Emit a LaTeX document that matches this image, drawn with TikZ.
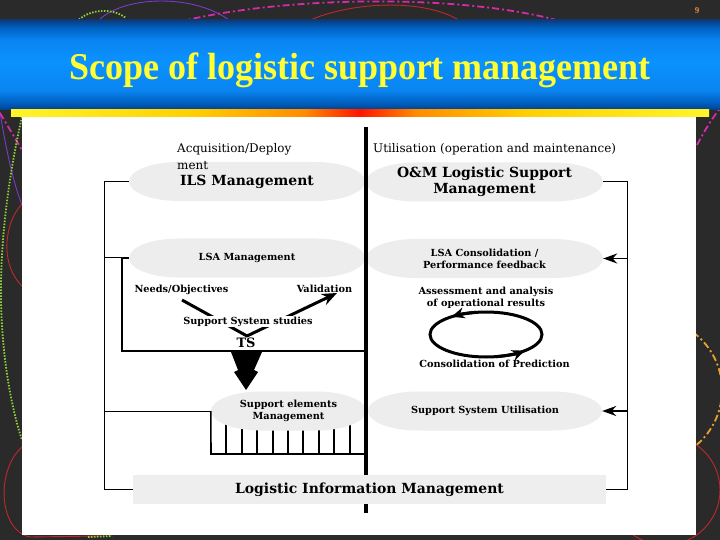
\documentclass[tikz,border=0pt]{standalone}
\usepackage{fontspec}
\setmainfont{Liberation Serif}
\newfontfamily\dvs{DejaVu Serif}
\usetikzlibrary{arrows.meta}
\definecolor{bgdark}{HTML}{2A2A2A}
\definecolor{ellgray}{HTML}{EDEDED}
\definecolor{bargray}{HTML}{EEEEEE}
\definecolor{titleyellow}{HTML}{FFFF33}
\definecolor{pnumorange}{HTML}{E8893A}
\definecolor{decopurple}{HTML}{7A3CC8}
\definecolor{decogreen}{HTML}{8FD03A}
\definecolor{decomag}{HTML}{D62AA8}
\definecolor{decored}{HTML}{C0282C}
\definecolor{decoorange}{HTML}{E8A030}
\definecolor{bnA}{HTML}{00418C}
\definecolor{bnB}{HTML}{0062C4}
\definecolor{bnC}{HTML}{0A84F0}
\definecolor{bnD}{HTML}{0A92FF}
\definecolor{bnE}{HTML}{0B3C7C}
\definecolor{byel}{HTML}{FFF52A}
\definecolor{byo}{HTML}{FFD000}
\definecolor{bor}{HTML}{FF8C00}
\definecolor{bred}{HTML}{FF1500}
\pgfdeclareverticalshading{bannershade}{100bp}{color(0bp)=(bnA); color(25bp)=(bnA); color(29.5bp)=(bnB); color(36bp)=(bnC); color(52bp)=(bnD); color(64bp)=(bnC); color(70.5bp)=(bnB); color(75bp)=(bnE); color(100bp)=(bnE)}
\pgfdeclarehorizontalshading{barshade}{100bp}{color(0bp)=(byel); color(25bp)=(byel); color(38bp)=(byo); color(46bp)=(bor); color(50bp)=(bred); color(54bp)=(bor); color(62bp)=(byo); color(75bp)=(byel); color(100bp)=(byel)}
\newcommand\blobr{50}
\newcommand\blob[6]{%
  \fill[ellgray] ({#2-#4/2+\blobr},{#3-19.5}) -- ({#2+#4/2-\blobr},{#3-19.5})
    arc[start angle=90,end angle=-90,x radius={\blobr*1bp},y radius=19.5bp]
    -- ({#2-#4/2+\blobr},{#3+19.5})
    arc[start angle=270,end angle=90,x radius={\blobr*1bp},y radius=19.5bp] -- cycle;
  \node[blobnode,#5,minimum width={#4*1bp}] (#1) at (#2,#3) {#6};}
\tikzset{
  blobnode/.style={rectangle,inner sep=0pt,minimum height=39bp,align=center,draw=none,fill=none},
  bigbold/.style={font=\dvs\bfseries\fontsize{14}{16.5}\selectfont},
  smallbold/.style={font=\dvs\bfseries\fontsize{9.8}{12}\selectfont,align=center},
  plainlbl/.style={font=\dvs\fontsize{12}{17}\selectfont},
  frame/.style={line width=1bp,black},
  thickl/.style={line width=2.6bp,black,line join=miter},
  combl/.style={line width=1.6bp,black},
  centralline/.style={line width=3.6bp,black},
  fbarrow/.style={line width=1.8bp,black,-{Stealth[length=14bp,width=10bp]}},
  vline/.style={line width=3bp,black,line join=round,-{Stealth[length=15bp,width=12bp]}},
  loopline/.style={line width=3bp,black},
  deco/.style={line width=0.9bp},
  decodot/.style={line width=1.8bp,dash pattern=on 1.5bp off 1.5bp},
  decodashdot/.style={line width=1.8bp,dash pattern=on 7bp off 3bp on 2bp off 3bp},
}
\begin{document}
\begin{tikzpicture}[x=1bp,y=-1bp]
\useasboundingbox (0,0) rectangle (720,540);
\fill[bgdark] (0,0) rectangle (720,540);
% decorative curves on the dark background
\draw[deco,decopurple] (92,28) .. controls (115,-8) and (205,-8) .. (238,28);
\draw[decodot,decogreen] (75,24) .. controls (85,10) and (110,6) .. (126,18);
\draw[decodashdot,decomag] (150,30) .. controls (260,-6) and (470,-8) .. (570,24);
\draw[deco,decored] (296,28) .. controls (330,4) and (420,-6) .. (462,22);
\draw[deco,decopurple] (0,112) .. controls (6,150) and (14,185) .. (22,205);
\draw[decodashdot,decomag] (0,113) -- (22,150);
\draw[decodot,decogreen] (22,117) .. controls (12,160) and (0,230) .. (1,300) .. controls (2,360) and (12,410) .. (22,440);
\draw[deco,decored] (22,204) .. controls (6,220) and (-2,262) .. (22,286);
\draw[deco,decored] (22,447) .. controls (-4,470) and (-2,530) .. (30,537) -- (100,536);
\draw[decodot,decogreen] (88,537) -- (112,536);
\draw[decodashdot,decomag] (697,145) .. controls (705,130) and (712,118) .. (722,106);
\draw[decodashdot,decoorange] (650,390) circle[radius=72bp];
\draw[deco,decored] (665,490) circle[radius=55bp];
% banner, bar, panel
\shade[shading=bannershade] (0,20) rectangle (720,110);
\shade[shading=barshade] (11,110) rectangle (709,117);
\fill[white] (22,117) rectangle (696,535);
\node[font=\bfseries\fontsize{38}{40}\selectfont,text=titleyellow,xscale=0.95,inner sep=0pt,anchor=base] (title) at (360,80) {Scope of logistic support management};
\node[font=\bfseries\fontsize{9}{10}\selectfont,text=pnumorange,inner sep=0pt] (pnum) at (697,11) {9};
% comb ticks (under the ellipse)
\foreach \tx in {226,242,257,273,288,303,319,334,350}
  \draw[combl] (\tx,420) -- (\tx,454);
% ellipses
\blob{ils}{247}{181.5}{236}{bigbold}{ILS Management}
\blob{om}{484.5}{182}{237}{bigbold}{O\&M Logistic Support\\Management}
\blob{lsa}{247}{258}{236}{smallbold}{LSA Management}
\blob{lsac}{484.5}{258.5}{237}{smallbold}{LSA Consolidation /\\Performance feedback}
\blob{sem}{288.5}{411}{155}{smallbold}{Support elements\\Management}
\blob{ssu}{485}{411}{234}{smallbold}{Support System Utilisation}
% central divider
\coordinate (ctop) at (366,127);
\coordinate (cbot) at (366,513);
\draw[centralline] (ctop) -- (cbot);
% logistic information bar
\node[fill=bargray,inner sep=0pt,minimum width=473bp,minimum height=29bp,font=\dvs\bfseries\fontsize{14}{16}\selectfont] (lim) at (369.5,489.5) {Logistic Information Management};
% phase labels
\node[plainlbl,anchor=north west,align=left,inner sep=0pt] (acq) at (177,143) {Acquisition/Deploy\\ment};
\node[plainlbl,anchor=base west,inner sep=0pt] (util) at (373,153) {Utilisation (operation and maintenance)};
% left frame
\coordinate (fl2) at (104,258);
\coordinate (fl3) at (104,411);
\coordinate (fl4) at (104,489.5);
\draw[frame] (ils.west) -| (fl4) -- (lim.west);
\draw[frame] (fl2) -- (lsa.west);
\draw[frame] (fl3) -- (sem.west);
% right frame
\coordinate (fr2) at (627,258.5);
\coordinate (fr3) at (627,411);
\coordinate (fr4) at (627,489.5);
\draw[frame] (om.east) -| (fr4) -- (lim.east);
\draw[fbarrow] (fr2) -- (lsac.east);
\draw[fbarrow] (fr3) -- (ssu.east);
% thick bracket around the support system studies
\coordinate (tb1) at (122,351);
\coordinate (tb2) at (366,351);
\draw[thickl] (lsa.west) -| (tb1) -- (tb2);
% comb frame
\coordinate (cb1) at (211,454);
\coordinate (cb2) at (366,454);
\draw[combl] (sem.west) -- (cb1) -- (cb2);
% V of support system studies
\node[smallbold,anchor=base,inner sep=0pt] (needs) at (181.5,292) {Needs/Objectives};
\node[smallbold,anchor=base,inner sep=0pt] (valid) at (324.5,292) {Validation};
\coordinate (v1) at (182,300);
\coordinate (v2) at (247,336);
\coordinate (v3) at (337,293);
\draw[vline] (v1) -- (v2) -- (v3);
\node[smallbold,anchor=base,fill=white,inner sep=1bp] (sss) at (248,324) {Support System studies};
\node[font=\dvs\bfseries\fontsize{13}{15}\selectfont,anchor=base,inner sep=0pt] (ts) at (246,347.5) {TS};
% big down arrow
\fill[black] (231,352) -- (262,352) -- (254,370) -- (258,372) -- (246,390) -- (234,372) -- (238,370) -- cycle;
% assessment loop
\node[smallbold,inner sep=0pt] (assess) at (486,297.5) {Assessment and analysis\\of operational results};
\node[smallbold,anchor=base,inner sep=0pt] (consol) at (494.5,367) {Consolidation of Prediction};
\coordinate (loopc) at (486,334.5);
\draw[loopline] (loopc) ellipse[x radius=56bp,y radius=22.5bp];
\draw[loopline,-{Stealth[length=13bp,width=11bp]}] ([shift={(100:56bp and 22.5bp)}]loopc) arc[start angle=100,end angle=128,x radius=56bp,y radius=22.5bp];
\draw[loopline,-{Stealth[length=13bp,width=11bp]}] ([shift={(-80:56bp and 22.5bp)}]loopc) arc[start angle=-80,end angle=-46,x radius=56bp,y radius=22.5bp];
\end{tikzpicture}
\end{document}
